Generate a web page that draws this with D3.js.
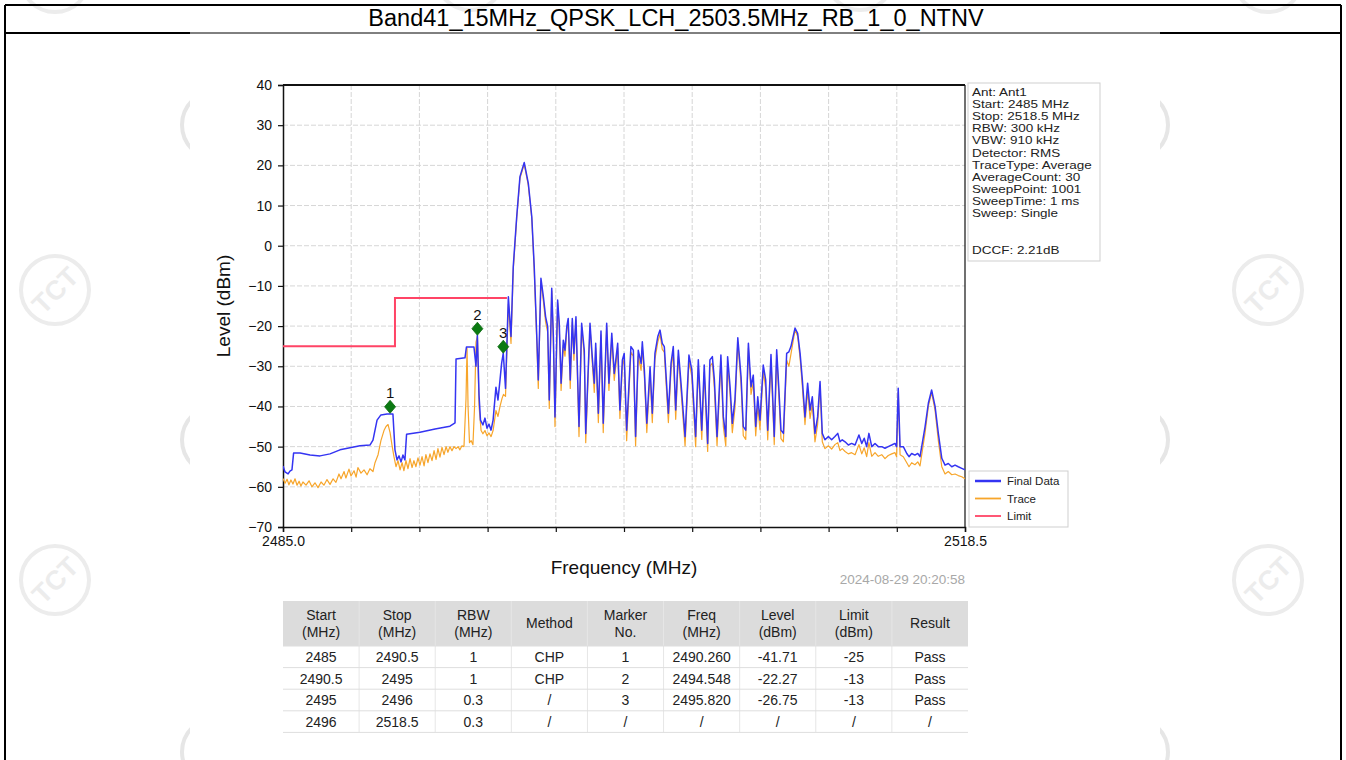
<!DOCTYPE html>
<html>
<head>
<meta charset="utf-8">
<script src="https://cdn.jsdelivr.net/npm/d3@7"></script>
<style>
  html, body { margin: 0; padding: 0; background: #fff; }
  svg { display: block; font-family: "Liberation Sans", Arial, sans-serif; }
</style>
</head>
<body>
<svg id="page" width="1346" height="760"></svg>
<script>
// ---------- data ----------
const titleText = "Band41_15MHz_QPSK_LCH_2503.5MHz_RB_1_0_NTNV";

const freqRange = [2485, 2518.5];
const levelTicks = [-70, -60, -50, -40, -30, -20, -10, 0, 10, 20, 30, 40];
const freqTickLabels = ["2485.0", "2518.5"];

// Final Data (blue) trace: frequency (MHz) / level (dBm)
const finalFreq = [
  2485.00, 2485.10, 2485.25, 2485.34, 2485.44, 2485.52, 2485.84, 2486.33, 2486.82, 2487.31,
  2487.80, 2488.29, 2488.78, 2489.27, 2489.42, 2489.62, 2489.81, 2490.11, 2490.40, 2490.50,
  2490.60, 2490.70, 2490.80, 2490.89, 2490.99, 2491.07, 2491.73, 2492.47, 2493.20, 2493.45,
  2493.50, 2493.94, 2494.01, 2494.38, 2494.48, 2494.548, 2494.63, 2494.70, 2494.82, 2494.92,
  2495.02, 2495.12, 2495.22, 2495.32, 2495.46, 2495.56, 2495.66, 2495.74, 2495.82, 2495.93,
  2496.07, 2496.20, 2496.31, 2496.48, 2496.64, 2496.85, 2497.05, 2497.22, 2497.34, 2497.46,
  2497.54, 2497.67, 2497.79, 2497.90, 2498.00, 2498.08, 2498.20, 2498.28, 2498.36, 2498.49,
  2498.57, 2498.66, 2498.77, 2498.85, 2498.94, 2499.01, 2499.11, 2499.21, 2499.29, 2499.39,
  2499.54, 2499.67, 2499.80, 2499.87, 2500.08, 2500.19, 2500.29, 2500.36, 2500.49, 2500.62,
  2500.73, 2500.90, 2501.01, 2501.15, 2501.27, 2501.44, 2501.55, 2501.67, 2501.76, 2501.88,
  2502.09, 2502.21, 2502.32, 2502.45, 2502.59, 2502.65, 2502.75, 2502.87, 2503.03, 2503.14,
  2503.27, 2503.41, 2503.52, 2503.63, 2503.73, 2503.93, 2504.06, 2504.17, 2504.29, 2504.42,
  2504.55, 2504.75, 2504.94, 2505.08, 2505.27, 2505.40, 2505.57, 2505.69, 2505.86, 2505.97,
  2506.09, 2506.19, 2506.32, 2506.51, 2506.63, 2506.75, 2506.84, 2506.96, 2507.07, 2507.20,
  2507.34, 2507.50, 2507.61, 2507.73, 2507.86, 2507.99, 2508.10, 2508.22, 2508.32, 2508.43,
  2508.59, 2508.71, 2508.81, 2508.97, 2509.08, 2509.13, 2509.25, 2509.36, 2509.46, 2509.58,
  2509.74, 2509.85, 2509.95, 2510.15, 2510.28, 2510.40, 2510.51, 2510.64, 2510.77, 2510.89,
  2511.00, 2511.13, 2511.26, 2511.38, 2511.49, 2511.62, 2511.79, 2511.95, 2512.11, 2512.25,
  2512.36, 2512.47, 2512.61, 2512.77, 2512.93, 2513.10, 2513.29, 2513.43, 2513.55, 2513.67,
  2513.78, 2513.92, 2514.08, 2514.24, 2514.41, 2514.57, 2514.73, 2514.90, 2515.06, 2515.14,
  2515.22, 2515.31, 2515.47, 2515.64, 2515.75, 2515.88, 2516.04, 2516.18, 2516.29, 2516.54,
  2516.70, 2516.86, 2517.03, 2517.19, 2517.36, 2517.52, 2517.68, 2517.85, 2518.01, 2518.17,
  2518.34, 2518.50
];
const finalLevel = [
  -54.8, -56.3, -56.8, -56.1, -55.8, -51.6, -51.6, -52.1, -52.3, -51.8,
  -50.8, -50.3, -49.8, -49.6, -48.4, -43.4, -42.1, -41.9, -41.9, -50.8,
  -53.3, -52.3, -53.8, -52.1, -53.3, -46.9, -46.4, -45.6, -44.9, -44.1,
  -28.2, -27.9, -25.2, -25.2, -30.0, -22.27, -37.2, -43.4, -44.6, -42.9,
  -45.4, -44.4, -45.9, -43.4, -35.2, -38.4, -33.4, -29.2, -26.75, -35.5,
  -12.7, -22.6, -5.2, 7.2, 17.2, 20.7, 15.5, 7.2, -5.2, -21.8,
  -33.4, -8.1, -12.7, -17.7, -20.1, -38.4, -10.6, -22.6, -42.6, -13.5,
  -19.3, -34.2, -23.5, -26.0, -20.1, -18.1, -33.4, -18.1, -26.8, -17.7,
  -45.0, -19.3, -26.0, -46.7, -19.3, -27.6, -34.2, -24.3, -41.7, -21.2,
  -44.2, -19.3, -34.2, -21.8, -31.8, -24.3, -40.9, -28.4, -26.8, -45.9,
  -25.1, -26.0, -47.5, -26.0, -29.3, -23.9, -30.9, -44.2, -30.1, -41.7,
  -26.8, -22.6, -21.0, -24.3, -25.1, -41.7, -29.3, -25.1, -40.9, -26.0,
  -34.2, -47.5, -27.2, -30.9, -47.5, -28.4, -45.9, -29.7, -49.2, -28.4,
  -27.6, -33.4, -47.5, -27.2, -42.6, -47.5, -27.6, -35.1, -44.2, -38.3,
  -22.9, -32.6, -45.0, -45.9, -24.3, -35.1, -32.2, -45.0, -37.6, -43.4,
  -29.7, -33.4, -45.9, -27.1, -40.9, -47.5, -25.9, -35.9, -45.9, -46.7,
  -26.8, -26.4, -25.1, -20.5, -21.8, -26.8, -33.4, -42.6, -34.2, -40.9,
  -37.6, -46.7, -42.6, -33.8, -46.7, -48.3, -47.5, -48.3, -47.5, -46.7,
  -48.8, -48.3, -48.8, -49.6, -49.2, -49.6, -47.1, -49.2, -47.9, -50.0,
  -46.7, -50.0, -49.2, -50.0, -50.0, -50.4, -50.0, -49.6, -49.2, -50.0,
  -35.5, -50.0, -50.0, -51.7, -52.5, -51.7, -52.1, -51.7, -52.5, -45.0,
  -39.2, -35.9, -40.0, -46.7, -52.9, -54.6, -54.2, -55.0, -54.6, -55.0,
  -55.4, -55.8
];

// Trace (orange): frequency (MHz) / level (dBm)
const traceFreq = [
  2485.00, 2485.10, 2485.20, 2485.29, 2485.39, 2485.49, 2485.59, 2485.69, 2485.79, 2485.88,
  2485.98, 2486.13, 2486.28, 2486.42, 2486.57, 2486.72, 2486.87, 2487.01, 2487.16, 2487.31,
  2487.46, 2487.60, 2487.75, 2487.85, 2488.00, 2488.09, 2488.24, 2488.34, 2488.49, 2488.59,
  2488.68, 2488.83, 2488.98, 2489.13, 2489.27, 2489.42, 2489.52, 2489.67, 2489.81, 2489.96,
  2490.06, 2490.16, 2490.26, 2490.35, 2490.45, 2490.55, 2490.65, 2490.75, 2490.85, 2490.94,
  2491.04, 2491.14, 2491.24, 2491.34, 2491.43, 2491.53, 2491.63, 2491.73, 2491.83, 2491.93,
  2492.02, 2492.12, 2492.22, 2492.32, 2492.42, 2492.52, 2492.61, 2492.71, 2492.81, 2492.91,
  2493.01, 2493.10, 2493.20, 2493.30, 2493.40, 2493.50, 2493.60, 2493.69, 2493.79, 2493.89,
  2493.99, 2494.04, 2494.09, 2494.16, 2494.24, 2494.33, 2494.41, 2494.48, 2494.55, 2494.63,
  2494.73, 2494.82, 2494.92, 2495.02, 2495.12, 2495.22, 2495.32, 2495.46, 2495.56, 2495.66,
  2495.76, 2495.83, 2495.93,
  2496.07, 2496.20, 2496.31, 2496.48, 2496.64, 2496.85, 2497.05, 2497.22, 2497.34, 2497.46,
  2497.54, 2497.67, 2497.79, 2497.90, 2498.00, 2498.08, 2498.20, 2498.28, 2498.36, 2498.49,
  2498.57, 2498.66, 2498.77, 2498.85, 2498.94, 2499.01, 2499.11, 2499.21, 2499.29, 2499.39,
  2499.54, 2499.67, 2499.80, 2499.87, 2500.08, 2500.19, 2500.29, 2500.36, 2500.49, 2500.62,
  2500.73, 2500.90, 2501.01, 2501.15, 2501.27, 2501.44, 2501.55, 2501.67, 2501.76, 2501.88,
  2502.09, 2502.21, 2502.32, 2502.45, 2502.59, 2502.65, 2502.75, 2502.87, 2503.03, 2503.14,
  2503.27, 2503.41, 2503.52, 2503.63, 2503.73, 2503.93, 2504.06, 2504.17, 2504.29, 2504.42,
  2504.55, 2504.75, 2504.94, 2505.08, 2505.27, 2505.40, 2505.57, 2505.69, 2505.86, 2505.97,
  2506.09, 2506.19, 2506.32, 2506.51, 2506.63, 2506.75, 2506.84, 2506.96, 2507.07, 2507.20,
  2507.34, 2507.50, 2507.61, 2507.73, 2507.86, 2507.99, 2508.10, 2508.22, 2508.32, 2508.43,
  2508.59, 2508.71, 2508.81, 2508.97, 2509.08, 2509.13, 2509.25, 2509.36, 2509.46, 2509.58,
  2509.74, 2509.85, 2509.95, 2510.15, 2510.28, 2510.40, 2510.51, 2510.64, 2510.77, 2510.89,
  2511.00, 2511.13, 2511.26, 2511.38, 2511.49, 2511.62, 2511.79, 2511.95, 2512.11, 2512.25,
  2512.36, 2512.47, 2512.61, 2512.77, 2512.93, 2513.10, 2513.29, 2513.43, 2513.55, 2513.67,
  2513.78, 2513.92, 2514.08, 2514.24, 2514.41, 2514.57, 2514.73, 2514.90, 2515.06, 2515.14,
  2515.22, 2515.31, 2515.47, 2515.64, 2515.75, 2515.88, 2516.04, 2516.18, 2516.29, 2516.54,
  2516.70, 2516.86, 2517.03, 2517.19, 2517.36, 2517.52, 2517.68, 2517.85, 2518.01, 2518.17,
  2518.34, 2518.50
];
const traceLevel = [
  -57.9, -59.1, -58.1, -59.5, -58.3, -59.3, -58.0, -59.6, -58.6, -59.8,
  -58.8, -59.6, -58.5, -60.0, -59.0, -60.2, -58.8, -59.6, -58.2, -59.4,
  -58.0, -58.9, -56.8, -58.0, -56.2, -57.8, -55.6, -57.3, -56.0, -57.6,
  -55.2, -56.6, -55.8, -57.0, -55.5, -56.2, -54.0, -52.0, -48.5, -46.0,
  -45.0, -44.5, -46.5, -49.5, -52.5, -55.0, -53.5, -55.8, -54.0, -56.0,
  -53.5, -55.5, -53.0, -55.2, -53.5, -55.0, -52.8, -54.6, -52.5, -54.8,
  -52.0, -54.0, -51.8, -53.5, -51.0, -53.2, -50.5, -52.6, -50.2, -52.0,
  -50.0, -51.4, -50.0, -51.0, -50.0, -50.5, -50.0, -50.8, -49.8, -50.0,
  -38.0, -25.5, -40.0, -49.0, -48.5, -49.5, -40.0, -24.0, -22.5, -40.0,
  -46.0, -46.8, -46.0, -47.3, -46.6, -47.5, -46.0, -41.0, -42.5, -40.0,
  -38.0, -37.0, -37.5,
  -14.5, -24.3, -6.0, 6.8, 16.8, 20.3, 15.0, 6.8, -6.0, -23.0,
  -35.5, -8.8, -13.8, -19.0, -21.5, -40.5, -11.2, -23.8, -45.0, -14.2,
  -20.5, -36.0, -24.8, -27.5, -21.0, -19.0, -35.5, -19.0, -28.5, -18.5,
  -47.5, -20.2, -27.5, -49.0, -20.2, -29.0, -36.5, -25.5, -44.0, -22.2,
  -46.5, -20.2, -36.0, -23.0, -33.5, -25.5, -43.0, -30.0, -28.2, -48.5,
  -26.5, -27.5, -49.8, -27.5, -31.0, -25.2, -32.5, -46.5, -31.8, -44.0,
  -28.2, -24.0, -22.0, -25.8, -26.5, -44.0, -31.0, -26.5, -43.2, -27.5,
  -36.0, -49.8, -28.8, -32.5, -50.0, -30.0, -48.2, -31.5, -51.2, -30.0,
  -29.2, -35.5, -49.8, -28.8, -45.0, -49.8, -29.2, -37.0, -46.5, -40.5,
  -24.0, -34.5, -47.3, -48.2, -25.5, -37.0, -34.0, -47.3, -39.8, -45.8,
  -31.2, -35.5, -48.3, -28.5, -43.0, -49.5, -27.2, -37.8, -48.0, -48.8,
  -28.5, -30.0, -27.0, -21.0, -22.5, -28.0, -35.0, -44.5, -36.0, -43.0,
  -39.5, -48.8, -44.5, -35.0, -48.8, -50.5, -49.8, -50.6, -49.5, -49.0,
  -51.0, -50.5, -51.2, -51.8, -51.5, -52.0, -49.5, -51.8, -50.3, -52.5,
  -49.0, -52.4, -51.5, -52.4, -52.0, -53.0, -52.2, -51.8, -51.5, -52.5,
  -36.5, -52.0, -52.5, -54.0, -55.0, -54.0, -54.5, -53.8, -54.8, -46.5,
  -40.0, -36.5, -41.0, -48.5, -55.0, -56.8, -56.2, -57.0, -56.8, -57.2,
  -57.5, -58.0
];

// Limit line (stepped): segment edges (MHz) and limit (dBm)
const limitStart = [2485, 2490.5];
const limitStop = [2490.5, 2496];
const limitLevel = [-25, -13];

// Markers
const markerNo = [1, 2, 3];
const markerFreq = [2490.260, 2494.548, 2495.820];
const markerLevel = [-41.71, -22.27, -26.75];

// Instrument settings panel
const settingsLines = [
  "Ant: Ant1", "Start: 2485 MHz", "Stop: 2518.5 MHz", "RBW: 300 kHz", "VBW: 910 kHz",
  "Detector: RMS", "TraceType: Average", "AverageCount: 30", "SweepPoint: 1001",
  "SweepTime: 1 ms", "Sweep: Single"
];
const dccfLine = "DCCF: 2.21dB";

const legendNames = ["Final Data", "Trace", "Limit"];
const legendColors = ["#3434f2", "#f7a52a", "#ff4466"];

const timestamp = "2024-08-29 20:20:58";

// Result table
const tableHeader = [["Start", "(MHz)"], ["Stop", "(MHz)"], ["RBW", "(MHz)"], ["Method"],
  ["Marker", "No."], ["Freq", "(MHz)"], ["Level", "(dBm)"], ["Limit", "(dBm)"], ["Result"]];
const tableStart = ["2485", "2490.5", "2495", "2496"];
const tableStop = ["2490.5", "2495", "2496", "2518.5"];
const tableRbw = ["1", "1", "0.3", "0.3"];
const tableMethod = ["CHP", "CHP", "/", "/"];
const tableMarker = ["1", "2", "3", "/"];
const tableFreq = ["2490.260", "2494.548", "2495.820", "/"];
const tableLevel = ["-41.71", "-22.27", "-26.75", "/"];
const tableLimit = ["-25", "-13", "-13", "/"];
const tableResult = ["Pass", "Pass", "Pass", "/"];

// ---------- drawing ----------
const svg = d3.select("#page");

// faint logo watermarks (ring + rotated lettering; rings only where cut by an edge)
const wmColor = "#ececec";
function watermark(g, cx, cy, r, color, withText) {
  const w = g.append("g").attr("transform", `translate(${cx},${cy})`);
  w.append("circle").attr("r", r).attr("fill", "none").attr("stroke", color).attr("stroke-width", 4);
  if (withText) {
    w.append("text").attr("transform", "rotate(-45)").attr("text-anchor", "middle").attr("dy", "0.36em")
      .attr("font-size", 27).attr("font-weight", "bold").attr("fill", color).text("TCT");
  }
}
const wm = svg.append("g");
[[55, 290], [1268, 290], [55, 580], [1268, 580]]
  .forEach(p => watermark(wm, p[0], p[1], 34, wmColor, true));
[[55, -22], [470, -24], [860, -24], [1268, -22]]
  .forEach(p => watermark(wm, p[0], p[1], 34, wmColor, false));
[[216, 125], [216, 440], [216, 752], [1134, 125], [1134, 440], [1134, 752]]
  .forEach(p => watermark(wm, p[0], p[1], 34, "#e6e6e6", false));
// chart sheet sits over the inner watermarks
svg.append("rect").attr("x", 190).attr("y", 34).attr("width", 970).attr("height", 726)
  .attr("fill", "#fff");

// report frame and title row
const frame = svg.append("g").attr("stroke", "#000");
frame.append("line").attr("x1", 5).attr("x2", 1341).attr("y1", 5).attr("y2", 5).attr("stroke-width", 2);
frame.append("line").attr("x1", 5).attr("x2", 5).attr("y1", 5).attr("y2", 760).attr("stroke-width", 2);
frame.append("line").attr("x1", 1341).attr("x2", 1341).attr("y1", 5).attr("y2", 760).attr("stroke-width", 2);
frame.append("line").attr("x1", 5).attr("x2", 190).attr("y1", 33).attr("y2", 33).attr("stroke-width", 2);
frame.append("line").attr("x1", 1160).attr("x2", 1341).attr("y1", 33).attr("y2", 33).attr("stroke-width", 2);
frame.append("line").attr("x1", 190).attr("x2", 1160).attr("y1", 33).attr("y2", 33).attr("stroke-width", 1);

svg.append("text").attr("x", 676).attr("y", 26).attr("text-anchor", "middle")
  .attr("font-size", 23.5).attr("fill", "#000").text(titleText);

// plot area
const plot = { left: 283, right: 965, top: 85, bottom: 527 };
const x = d3.scaleLinear().domain(freqRange).range([plot.left, plot.right]);
const y = d3.scaleLinear().domain([-70, 40]).range([plot.bottom, plot.top]);
const freqTicks = d3.range(11).map(i => freqRange[0] + i * (freqRange[1] - freqRange[0]) / 10);

const grid = svg.append("g").attr("stroke", "#d6d6d6").attr("stroke-width", 1).attr("stroke-dasharray", "5,2");
grid.selectAll(".gx").data(freqTicks.slice(1, -1)).join("line")
  .attr("x1", d => x(d)).attr("x2", d => x(d)).attr("y1", plot.top).attr("y2", plot.bottom);
grid.selectAll(".gy").data(levelTicks.slice(1, -1)).join("line")
  .attr("x1", plot.left).attr("x2", plot.right).attr("y1", d => y(d)).attr("y2", d => y(d));

// axes
const yAxis = svg.append("g").attr("transform", `translate(${plot.left},0)`)
  .call(d3.axisLeft(y).tickValues(levelTicks).tickSize(5).tickPadding(6).tickFormat(d3.format("d")));
const xAxis = svg.append("g").attr("transform", `translate(0,${plot.bottom})`)
  .call(d3.axisBottom(x).tickValues(freqTicks).tickSize(5).tickPadding(4)
    .tickFormat((d, i) => i === 0 ? freqTickLabels[0] : (i === 10 ? freqTickLabels[1] : "")));
[yAxis, xAxis].forEach(a => {
  a.select(".domain").attr("stroke", "#111").attr("stroke-width", 1.5);
  a.selectAll(".tick line").attr("stroke", "#111").attr("stroke-width", 1.2);
  a.selectAll("text").attr("font-family", "Liberation Sans, Arial, sans-serif").attr("font-size", 14).attr("fill", "#111");
});
// top and right border
svg.append("line").attr("x1", plot.left).attr("x2", plot.right).attr("y1", plot.top).attr("y2", plot.top)
  .attr("stroke", "#111").attr("stroke-width", 2.2);
svg.append("line").attr("x1", plot.right).attr("x2", plot.right).attr("y1", plot.top).attr("y2", plot.bottom)
  .attr("stroke", "#111").attr("stroke-width", 1.2);

// axis titles
svg.append("text").attr("transform", `translate(230,${(plot.top + plot.bottom) / 2}) rotate(-90)`)
  .attr("text-anchor", "middle").attr("font-size", 19).attr("fill", "#111").text("Level (dBm)");
svg.append("text").attr("x", (plot.left + plot.right) / 2).attr("y", 574)
  .attr("text-anchor", "middle").attr("font-size", 19).attr("fill", "#111").text("Frequency (MHz)");
svg.append("text").attr("x", 965).attr("y", 584).attr("text-anchor", "end")
  .attr("font-size", 13.5).attr("fill", "#a8a8a8").text(timestamp);

// traces
const clip = svg.append("clipPath").attr("id", "plotclip").append("rect")
  .attr("x", plot.left).attr("y", plot.top).attr("width", plot.right - plot.left).attr("height", plot.bottom - plot.top);
const traces = svg.append("g").attr("clip-path", "url(#plotclip)");
const line = d3.line().x(d => x(d[0])).y(d => y(d[1]));

traces.append("path").datum(d3.zip(traceFreq, traceLevel)).attr("d", line)
  .attr("fill", "none").attr("stroke", legendColors[1]).attr("stroke-width", 1.2).attr("stroke-linejoin", "round");
traces.append("path").datum(d3.zip(finalFreq, finalLevel)).attr("d", line)
  .attr("fill", "none").attr("stroke", legendColors[0]).attr("stroke-width", 1.5).attr("stroke-linejoin", "round");

// stepped limit line
const limitPts = [];
limitStart.forEach((s, i) => { limitPts.push([s, limitLevel[i]]); limitPts.push([limitStop[i], limitLevel[i]]); });
traces.append("path").datum(limitPts).attr("d", line)
  .attr("fill", "none").attr("stroke", legendColors[2]).attr("stroke-width", 2);

// markers: diamond pin whose lower tip sits on the marker level
const mk = svg.append("g");
markerNo.forEach((n, i) => {
  const mx = x(markerFreq[i]), my = y(markerLevel[i]);
  mk.append("path")
    .attr("d", `M${mx},${my - 13} L${mx + 5.5},${my - 6.5} L${mx},${my} L${mx - 5.5},${my - 6.5} Z`)
    .attr("fill", "#0b7a12").attr("stroke", "#0b6a10").attr("stroke-width", 0.8);
  mk.append("text").attr("x", mx).attr("y", my - 15).attr("text-anchor", "middle")
    .attr("font-size", 15).attr("fill", "#111").text(n);
});

// settings panel: compact, horizontally widened lettering
const panel = svg.append("g");
panel.append("rect").attr("x", 968).attr("y", 83).attr("width", 132).attr("height", 178)
  .attr("fill", "#fff").attr("stroke", "#cfcfcf");
panel.selectAll("text.s").data(settingsLines).join("text")
  .attr("transform", (d, i) => `translate(972,${96 + i * 12.1}) scale(1.26,1)`)
  .attr("font-size", 10.7).attr("fill", "#222").text(d => d);
panel.append("text").attr("transform", "translate(972,254) scale(1.26,1)")
  .attr("font-size", 10.7).attr("fill", "#222").text(dccfLine);

// legend
const lg = svg.append("g");
lg.append("rect").attr("x", 969).attr("y", 471).attr("width", 99).attr("height", 56)
  .attr("fill", "#fff").attr("stroke", "#cfcfcf");
legendNames.forEach((nm, i) => {
  const ly = 481 + i * 17.5;
  lg.append("line").attr("x1", 975).attr("x2", 1001).attr("y1", ly).attr("y2", ly)
    .attr("stroke", legendColors[i]).attr("stroke-width", i === 0 ? 2.5 : 1.8);
  lg.append("text").attr("x", 1007).attr("y", ly + 4).attr("font-size", 11.5).attr("fill", "#222").text(nm);
});

// result table
const columns = [tableStart, tableStop, tableRbw, tableMethod, tableMarker, tableFreq, tableLevel, tableLimit, tableResult];
const tx = d3.scaleBand().domain(d3.range(columns.length)).range([283, 968]);
const headTop = 601, headBottom = 646, rowH = 21.6;
const tbl = svg.append("g");
tbl.append("rect").attr("x", 283).attr("y", headTop).attr("width", 685).attr("height", headBottom - headTop)
  .attr("fill", "#dcdcdc");
tbl.selectAll("line.v").data(d3.range(1, columns.length)).join("line")
  .attr("x1", d => tx(d)).attr("x2", d => tx(d)).attr("y1", headTop).attr("y2", headBottom + rowH * 4)
  .attr("stroke", "#e6e6e6");
tbl.selectAll("line.h").data(d3.range(0, 5)).join("line")
  .attr("x1", 283).attr("x2", 968).attr("y1", d => headBottom + d * rowH).attr("y2", d => headBottom + d * rowH)
  .attr("stroke", "#dedede");
tableHeader.forEach((lines, c) => {
  const cx = tx(c) + tx.bandwidth() / 2;
  const t = tbl.append("text").attr("text-anchor", "middle").attr("font-size", 14).attr("fill", "#222");
  if (lines.length === 1) {
    t.attr("x", cx).attr("y", 628).text(lines[0]);
  } else {
    t.append("tspan").attr("x", cx).attr("y", 620).text(lines[0]);
    t.append("tspan").attr("x", cx).attr("y", 637).text(lines[1]);
  }
});
columns.forEach((col, c) => {
  col.forEach((v, r) => {
    tbl.append("text").attr("x", tx(c) + tx.bandwidth() / 2).attr("y", headBottom + r * rowH + 16)
      .attr("text-anchor", "middle").attr("font-size", 14).attr("fill", "#222").text(v);
  });
});
</script>
</body>
</html>
